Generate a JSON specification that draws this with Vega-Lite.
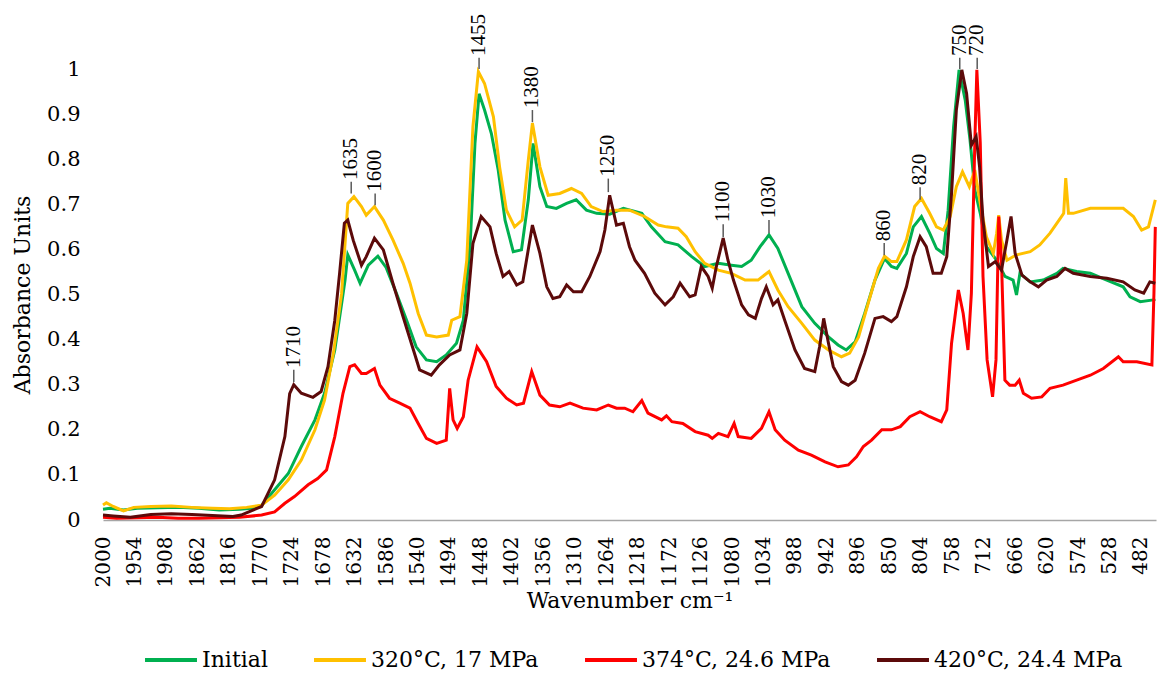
{
  "$schema": "https://vega.github.io/schema/vega-lite/v6.json",
  "width": 1053,
  "height": 451,
  "autosize": {"type": "none"},
  "padding": {"left": 103, "top": 69, "right": 1, "bottom": 155},
  "background": "white",
  "view": {"stroke": null},
  "datasets": {
    "initial": [
      {"w":2000,"a":0.024},{"w":1990,"a":0.026},{"w":1970,"a":0.022},{"w":1950,"a":0.026},{"w":1920,"a":0.027},{"w":1890,"a":0.028},{"w":1860,"a":0.026},{"w":1830,"a":0.022},{"w":1800,"a":0.024},{"w":1783,"a":0.026},{"w":1768,"a":0.033},{"w":1749,"a":0.067},{"w":1729,"a":0.103},{"w":1710,"a":0.163},{"w":1690,"a":0.222},{"w":1676,"a":0.281},{"w":1661,"a":0.377},{"w":1651,"a":0.48},{"w":1646,"a":0.532},{"w":1642,"a":0.588},{"w":1632,"a":0.554},{"w":1624,"a":0.525},{"w":1612,"a":0.565},{"w":1598,"a":0.585},{"w":1586,"a":0.56},{"w":1571,"a":0.503},{"w":1556,"a":0.443},{"w":1542,"a":0.384},{"w":1527,"a":0.355},{"w":1512,"a":0.351},{"w":1498,"a":0.366},{"w":1483,"a":0.392},{"w":1473,"a":0.443},{"w":1463,"a":0.613},{"w":1456,"a":0.835},{"w":1450,"a":0.945},{"w":1442,"a":0.909},{"w":1432,"a":0.857},{"w":1422,"a":0.776},{"w":1412,"a":0.665},{"w":1400,"a":0.595},{"w":1388,"a":0.599},{"w":1378,"a":0.71},{"w":1371,"a":0.835},{"w":1361,"a":0.739},{"w":1351,"a":0.695},{"w":1337,"a":0.691},{"w":1322,"a":0.702},{"w":1308,"a":0.71},{"w":1293,"a":0.687},{"w":1278,"a":0.68},{"w":1259,"a":0.678},{"w":1239,"a":0.691},{"w":1212,"a":0.68},{"w":1198,"a":0.65},{"w":1178,"a":0.617},{"w":1159,"a":0.61},{"w":1139,"a":0.584},{"w":1120,"a":0.562},{"w":1100,"a":0.569},{"w":1081,"a":0.565},{"w":1066,"a":0.562},{"w":1052,"a":0.576},{"w":1039,"a":0.606},{"w":1026,"a":0.632},{"w":1013,"a":0.602},{"w":998,"a":0.547},{"w":978,"a":0.473},{"w":959,"a":0.436},{"w":939,"a":0.406},{"w":925,"a":0.388},{"w":913,"a":0.377},{"w":900,"a":0.395},{"w":886,"a":0.458},{"w":871,"a":0.532},{"w":857,"a":0.58},{"w":847,"a":0.562},{"w":839,"a":0.558},{"w":825,"a":0.591},{"w":815,"a":0.65},{"w":803,"a":0.673},{"w":791,"a":0.636},{"w":781,"a":0.602},{"w":771,"a":0.591},{"w":764,"a":0.687},{"w":756,"a":0.872},{"w":748,"a":0.998},{"w":739,"a":0.931},{"w":732,"a":0.843},{"w":725,"a":0.732},{"w":717,"a":0.68},{"w":708,"a":0.606},{"w":693,"a":0.576},{"w":681,"a":0.54},{"w":669,"a":0.532},{"w":664,"a":0.499},{"w":659,"a":0.547},{"w":644,"a":0.528},{"w":625,"a":0.532},{"w":605,"a":0.547},{"w":596,"a":0.558},{"w":576,"a":0.551},{"w":556,"a":0.547},{"w":532,"a":0.532},{"w":508,"a":0.517},{"w":498,"a":0.495},{"w":483,"a":0.484},{"w":464,"a":0.488},{"w":461,"a":0.49}
    ],
    "t320": [
      {"w":2000,"a":0.033},{"w":1995,"a":0.038},{"w":1985,"a":0.03},{"w":1970,"a":0.02},{"w":1955,"a":0.028},{"w":1930,"a":0.03},{"w":1900,"a":0.031},{"w":1870,"a":0.028},{"w":1840,"a":0.026},{"w":1815,"a":0.025},{"w":1790,"a":0.028},{"w":1768,"a":0.033},{"w":1749,"a":0.055},{"w":1729,"a":0.089},{"w":1710,"a":0.133},{"w":1690,"a":0.2},{"w":1676,"a":0.266},{"w":1663,"a":0.37},{"w":1651,"a":0.503},{"w":1642,"a":0.702},{"w":1633,"a":0.717},{"w":1622,"a":0.695},{"w":1615,"a":0.676},{"w":1603,"a":0.695},{"w":1590,"a":0.665},{"w":1576,"a":0.621},{"w":1561,"a":0.569},{"w":1551,"a":0.525},{"w":1539,"a":0.458},{"w":1527,"a":0.41},{"w":1512,"a":0.406},{"w":1495,"a":0.41},{"w":1490,"a":0.443},{"w":1478,"a":0.451},{"w":1468,"a":0.576},{"w":1459,"a":0.872},{"w":1451,"a":0.994},{"w":1442,"a":0.968},{"w":1429,"a":0.894},{"w":1420,"a":0.783},{"w":1410,"a":0.687},{"w":1398,"a":0.65},{"w":1387,"a":0.665},{"w":1378,"a":0.798},{"w":1372,"a":0.88},{"w":1361,"a":0.783},{"w":1349,"a":0.72},{"w":1332,"a":0.724},{"w":1315,"a":0.735},{"w":1300,"a":0.724},{"w":1286,"a":0.695},{"w":1269,"a":0.684},{"w":1249,"a":0.687},{"w":1230,"a":0.687},{"w":1208,"a":0.673},{"w":1188,"a":0.654},{"w":1176,"a":0.65},{"w":1159,"a":0.647},{"w":1147,"a":0.628},{"w":1134,"a":0.595},{"w":1120,"a":0.569},{"w":1100,"a":0.554},{"w":1081,"a":0.547},{"w":1061,"a":0.532},{"w":1042,"a":0.532},{"w":1026,"a":0.551},{"w":1013,"a":0.51},{"w":998,"a":0.473},{"w":978,"a":0.436},{"w":959,"a":0.399},{"w":939,"a":0.377},{"w":920,"a":0.362},{"w":908,"a":0.37},{"w":895,"a":0.406},{"w":881,"a":0.48},{"w":866,"a":0.558},{"w":857,"a":0.585},{"w":847,"a":0.573},{"w":839,"a":0.573},{"w":825,"a":0.621},{"w":813,"a":0.695},{"w":803,"a":0.713},{"w":791,"a":0.68},{"w":781,"a":0.65},{"w":771,"a":0.643},{"w":761,"a":0.673},{"w":752,"a":0.739},{"w":743,"a":0.772},{"w":733,"a":0.739},{"w":725,"a":0.776},{"w":717,"a":0.702},{"w":708,"a":0.628},{"w":698,"a":0.591},{"w":693,"a":0.636},{"w":690,"a":0.676},{"w":686,"a":0.621},{"w":678,"a":0.576},{"w":664,"a":0.588},{"w":644,"a":0.595},{"w":630,"a":0.61},{"w":615,"a":0.636},{"w":600,"a":0.669},{"w":595,"a":0.68},{"w":592,"a":0.758},{"w":588,"a":0.68},{"w":581,"a":0.68},{"w":556,"a":0.691},{"w":532,"a":0.691},{"w":508,"a":0.691},{"w":493,"a":0.673},{"w":481,"a":0.643},{"w":471,"a":0.65},{"w":461,"a":0.71}
    ],
    "t374": [
      {"w":2000,"a":0.006},{"w":1980,"a":0.004},{"w":1950,"a":0.005},{"w":1920,"a":0.006},{"w":1890,"a":0.004},{"w":1860,"a":0.004},{"w":1830,"a":0.005},{"w":1800,"a":0.006},{"w":1768,"a":0.011},{"w":1749,"a":0.018},{"w":1734,"a":0.037},{"w":1720,"a":0.052},{"w":1700,"a":0.078},{"w":1686,"a":0.092},{"w":1673,"a":0.111},{"w":1661,"a":0.185},{"w":1649,"a":0.281},{"w":1639,"a":0.34},{"w":1632,"a":0.344},{"w":1622,"a":0.325},{"w":1615,"a":0.325},{"w":1603,"a":0.336},{"w":1595,"a":0.299},{"w":1581,"a":0.27},{"w":1566,"a":0.259},{"w":1551,"a":0.248},{"w":1539,"a":0.214},{"w":1527,"a":0.181},{"w":1512,"a":0.17},{"w":1498,"a":0.177},{"w":1493,"a":0.292},{"w":1488,"a":0.222},{"w":1482,"a":0.203},{"w":1473,"a":0.229},{"w":1466,"a":0.31},{"w":1453,"a":0.384},{"w":1439,"a":0.351},{"w":1425,"a":0.296},{"w":1410,"a":0.27},{"w":1395,"a":0.255},{"w":1385,"a":0.259},{"w":1373,"a":0.329},{"w":1361,"a":0.277},{"w":1347,"a":0.255},{"w":1332,"a":0.251},{"w":1317,"a":0.259},{"w":1298,"a":0.248},{"w":1278,"a":0.244},{"w":1261,"a":0.255},{"w":1249,"a":0.248},{"w":1237,"a":0.248},{"w":1225,"a":0.24},{"w":1212,"a":0.265},{"w":1203,"a":0.237},{"w":1183,"a":0.222},{"w":1176,"a":0.231},{"w":1168,"a":0.218},{"w":1152,"a":0.214},{"w":1134,"a":0.196},{"w":1115,"a":0.188},{"w":1109,"a":0.181},{"w":1100,"a":0.192},{"w":1086,"a":0.185},{"w":1077,"a":0.214},{"w":1071,"a":0.185},{"w":1052,"a":0.181},{"w":1037,"a":0.203},{"w":1026,"a":0.24},{"w":1017,"a":0.2},{"w":1003,"a":0.177},{"w":983,"a":0.155},{"w":964,"a":0.144},{"w":944,"a":0.129},{"w":925,"a":0.118},{"w":910,"a":0.122},{"w":898,"a":0.14},{"w":888,"a":0.163},{"w":876,"a":0.177},{"w":861,"a":0.2},{"w":847,"a":0.2},{"w":834,"a":0.207},{"w":820,"a":0.229},{"w":805,"a":0.24},{"w":791,"a":0.229},{"w":774,"a":0.218},{"w":766,"a":0.244},{"w":759,"a":0.392},{"w":749,"a":0.51},{"w":742,"a":0.458},{"w":735,"a":0.377},{"w":730,"a":0.503},{"w":725,"a":0.835},{"w":722,"a":0.998},{"w":717,"a":0.835},{"w":713,"a":0.54},{"w":707,"a":0.355},{"w":699,"a":0.273},{"w":694,"a":0.355},{"w":690,"a":0.673},{"w":686,"a":0.576},{"w":681,"a":0.31},{"w":674,"a":0.299},{"w":666,"a":0.299},{"w":660,"a":0.31},{"w":654,"a":0.281},{"w":642,"a":0.27},{"w":627,"a":0.273},{"w":615,"a":0.292},{"w":596,"a":0.299},{"w":576,"a":0.31},{"w":556,"a":0.321},{"w":537,"a":0.336},{"w":515,"a":0.362},{"w":508,"a":0.351},{"w":488,"a":0.351},{"w":466,"a":0.344},{"w":463,"a":0.503},{"w":461,"a":0.65}
    ],
    "t420": [
      {"w":2000,"a":0.011},{"w":1985,"a":0.009},{"w":1960,"a":0.006},{"w":1930,"a":0.012},{"w":1900,"a":0.014},{"w":1870,"a":0.012},{"w":1840,"a":0.01},{"w":1810,"a":0.008},{"w":1798,"a":0.011},{"w":1768,"a":0.03},{"w":1749,"a":0.089},{"w":1734,"a":0.185},{"w":1727,"a":0.28},{"w":1721,"a":0.3},{"w":1710,"a":0.281},{"w":1693,"a":0.272},{"w":1681,"a":0.285},{"w":1671,"a":0.34},{"w":1661,"a":0.443},{"w":1654,"a":0.547},{"w":1647,"a":0.658},{"w":1642,"a":0.665},{"w":1634,"a":0.62},{"w":1622,"a":0.565},{"w":1615,"a":0.584},{"w":1603,"a":0.625},{"w":1590,"a":0.599},{"w":1576,"a":0.525},{"w":1561,"a":0.45},{"w":1546,"a":0.377},{"w":1537,"a":0.333},{"w":1520,"a":0.321},{"w":1508,"a":0.344},{"w":1493,"a":0.366},{"w":1478,"a":0.377},{"w":1468,"a":0.458},{"w":1459,"a":0.613},{"w":1447,"a":0.673},{"w":1434,"a":0.65},{"w":1425,"a":0.591},{"w":1415,"a":0.54},{"w":1406,"a":0.551},{"w":1395,"a":0.521},{"w":1386,"a":0.528},{"w":1372,"a":0.654},{"w":1361,"a":0.591},{"w":1351,"a":0.517},{"w":1342,"a":0.491},{"w":1332,"a":0.495},{"w":1322,"a":0.521},{"w":1312,"a":0.506},{"w":1300,"a":0.506},{"w":1288,"a":0.54},{"w":1273,"a":0.595},{"w":1266,"a":0.643},{"w":1259,"a":0.72},{"w":1249,"a":0.654},{"w":1239,"a":0.658},{"w":1230,"a":0.606},{"w":1222,"a":0.576},{"w":1208,"a":0.547},{"w":1193,"a":0.503},{"w":1178,"a":0.477},{"w":1166,"a":0.495},{"w":1156,"a":0.525},{"w":1142,"a":0.495},{"w":1134,"a":0.499},{"w":1125,"a":0.562},{"w":1115,"a":0.54},{"w":1109,"a":0.514},{"w":1103,"a":0.562},{"w":1093,"a":0.625},{"w":1086,"a":0.576},{"w":1078,"a":0.532},{"w":1066,"a":0.477},{"w":1056,"a":0.455},{"w":1046,"a":0.447},{"w":1037,"a":0.491},{"w":1030,"a":0.517},{"w":1020,"a":0.477},{"w":1013,"a":0.488},{"w":1003,"a":0.443},{"w":988,"a":0.377},{"w":974,"a":0.336},{"w":959,"a":0.329},{"w":952,"a":0.384},{"w":946,"a":0.447},{"w":939,"a":0.392},{"w":932,"a":0.34},{"w":920,"a":0.307},{"w":910,"a":0.299},{"w":900,"a":0.31},{"w":886,"a":0.37},{"w":871,"a":0.447},{"w":859,"a":0.451},{"w":847,"a":0.44},{"w":839,"a":0.451},{"w":825,"a":0.517},{"w":815,"a":0.584},{"w":805,"a":0.628},{"w":796,"a":0.606},{"w":786,"a":0.547},{"w":774,"a":0.547},{"w":766,"a":0.584},{"w":759,"a":0.724},{"w":752,"a":0.909},{"w":744,"a":0.998},{"w":737,"a":0.946},{"w":730,"a":0.831},{"w":723,"a":0.85},{"w":718,"a":0.783},{"w":713,"a":0.665},{"w":705,"a":0.562},{"w":695,"a":0.573},{"w":686,"a":0.554},{"w":678,"a":0.621},{"w":672,"a":0.673},{"w":666,"a":0.591},{"w":656,"a":0.543},{"w":644,"a":0.528},{"w":632,"a":0.517},{"w":620,"a":0.532},{"w":605,"a":0.54},{"w":593,"a":0.558},{"w":581,"a":0.547},{"w":556,"a":0.54},{"w":532,"a":0.536},{"w":508,"a":0.528},{"w":491,"a":0.51},{"w":478,"a":0.503},{"w":469,"a":0.528},{"w":461,"a":0.525}
    ],
    "peaks": [
      {"label":"1710","w":1721,"y0":0.306,"y1":0.333,"t":0.337},
      {"label":"1635","w":1637,"y0":0.724,"y1":0.75,"t":0.754},
      {"label":"1600","w":1602,"y0":0.698,"y1":0.724,"t":0.728},
      {"label":"1455","w":1450,"y0":1.0,"y1":1.025,"t":1.029},
      {"label":"1380","w":1372,"y0":0.882,"y1":0.909,"t":0.913},
      {"label":"1250","w":1261,"y0":0.727,"y1":0.757,"t":0.761},
      {"label":"1100","w":1093,"y0":0.627,"y1":0.656,"t":0.66},
      {"label":"1030","w":1026,"y0":0.636,"y1":0.665,"t":0.669},
      {"label":"860","w":857.5,"y0":0.587,"y1":0.614,"t":0.618},
      {"label":"820","w":805,"y0":0.71,"y1":0.738,"t":0.742},
      {"label":"750","w":747,"y0":1.0,"y1":1.025,"t":1.029},
      {"label":"720","w":721.5,"y0":1.0,"y1":1.025,"t":1.029}
    ]
  },
  "encoding": {
    "x": {
      "field": "w", "type": "quantitative",
      "scale": {"domain": [460, 2000], "reverse": true, "nice": false, "zero": false},
      "axis": {
        "title": "Wavenumber cm⁻¹", "titleFont": "DejaVu Serif", "titleFontSize": 22, "titleFontWeight": "normal", "titleColor": "#000000", "titlePadding": 4,
        "values": [2000,1954,1908,1862,1816,1770,1724,1678,1632,1586,1540,1494,1448,1402,1356,1310,1264,1218,1172,1126,1080,1034,988,942,896,850,804,758,712,666,620,574,528,482],
        "labelAngle": 270, "labelAlign": "right", "labelBaseline": "middle",
        "labelFont": "DejaVu Serif", "labelFontSize": 20, "labelColor": "#000000", "labelPadding": 16, "labelOverlap": false, "labelFlush": false, "labelBound": false,
        "format": "d", "domainColor": "#a6a6a6", "domainWidth": 1.5, "grid": false, "ticks": false
      }
    },
    "y": {
      "field": "a", "type": "quantitative",
      "scale": {"domain": [0, 1], "nice": false, "zero": true},
      "axis": {
        "title": "Absorbance Units", "titleFont": "DejaVu Serif", "titleFontSize": 22, "titleFontWeight": "normal", "titleColor": "#000000", "titlePadding": 12,
        "values": [0,0.1,0.2,0.3,0.4,0.5,0.6,0.7,0.8,0.9,1],
        "format": ".1~f", "labelFont": "DejaVu Serif", "labelFontSize": 21, "labelColor": "#000000", "labelPadding": 23, "domain": false, "grid": false, "ticks": false
      }
    }
  },
  "layer": [
    {
      "data": {"name": "initial"},
      "mark": {"type": "line", "strokeWidth": 3},
      "encoding": {
        "color": {
          "datum": "Initial", "type": "nominal",
          "scale": {"domain": ["Initial", "320°C, 17 MPa", "374°C, 24.6 MPa", "420°C, 24.4 MPa"], "range": ["#00b050", "#ffc000", "#ff0000", "#5c0a0a"]},
          "legend": {
            "title": null, "orient": "none", "direction": "horizontal", "legendX": 40, "legendY": 563,
            "symbolType": "stroke", "symbolSize": 2700, "symbolStrokeWidth": 4,
            "labelFont": "DejaVu Serif", "labelFontSize": 22, "labelColor": "#000000", "labelOffset": 3, "columnPadding": 38, "padding": 0, "labelLimit": 400
          }
        }
      }
    },
    {"data": {"name": "t320"}, "mark": {"type": "line", "strokeWidth": 3}, "encoding": {"color": {"datum": "320°C, 17 MPa", "type": "nominal"}}},
    {"data": {"name": "t374"}, "mark": {"type": "line", "strokeWidth": 3}, "encoding": {"color": {"datum": "374°C, 24.6 MPa", "type": "nominal"}}},
    {"data": {"name": "t420"}, "mark": {"type": "line", "strokeWidth": 3}, "encoding": {"color": {"datum": "420°C, 24.4 MPa", "type": "nominal"}}},
    {
      "data": {"name": "peaks"},
      "mark": {"type": "rule", "color": "#595959", "strokeWidth": 1.5},
      "encoding": {"y": {"field": "y0", "type": "quantitative"}, "y2": {"field": "y1"}}
    },
    {
      "data": {"name": "peaks"},
      "mark": {"type": "text", "angle": 270, "align": "left", "baseline": "middle", "fontSize": 21, "font": "Liberation Serif", "color": "#000000"},
      "encoding": {"y": {"field": "t", "type": "quantitative"}, "text": {"field": "label"}}
    }
  ]
}
